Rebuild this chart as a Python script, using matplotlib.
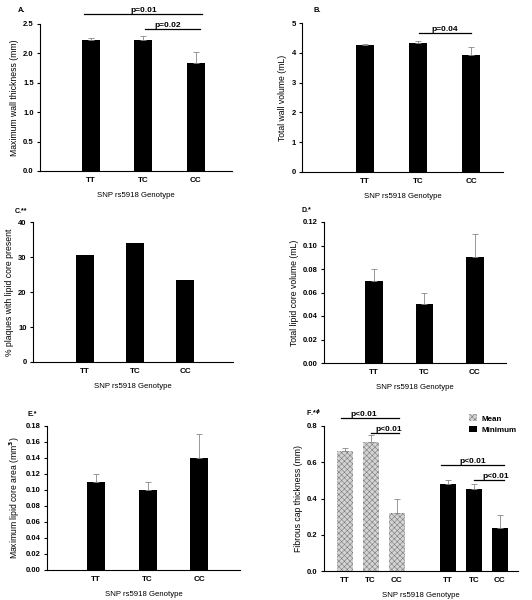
import numpy as np
import matplotlib
matplotlib.use("Agg")
import matplotlib.pyplot as plt

plt.rcParams['font.family'] = ['Liberation Sans', 'DejaVu Sans']
plt.rcParams['font.weight'] = 'bold'
plt.rcParams['hatch.linewidth'] = 0.4

genotypes = ["TT", "TC", "CC"]
xlabel = "SNP rs5918 Genotype"

# A. maximum wall thickness
wall_thick = [2.22, 2.22, 1.84]
wall_thick_err = [0.05, 0.07, 0.18]
# B. total wall volume
wall_vol = [4.25, 4.32, 3.92]
wall_vol_err = [0.05, 0.08, 0.26]
# C. % plaques with lipid core
lipid_pct = [30.5, 34.0, 23.3]
# D. total lipid core volume
lipid_vol = [0.07, 0.05, 0.09]
lipid_vol_err = [0.01, 0.01, 0.02]
# E. maximum lipid core area
lipid_area = [0.11, 0.10, 0.14]
lipid_area_err = [0.01, 0.01, 0.03]
# F. fibrous cap thickness
cap_mean = [0.66, 0.71, 0.32]
cap_mean_err = [0.02, 0.04, 0.08]
cap_min = [0.48, 0.45, 0.24]
cap_min_err = [0.02, 0.03, 0.07]

W, H = 532, 600
fig = plt.figure(figsize=(W / 100, H / 100), dpi=100)


def make_ax(left, right, top, bottom):
    return fig.add_axes([left / W, 1 - bottom / H, (right - left) / W, (bottom - top) / H])


def style(ax, ylim, yticks, fmt, ylab, xlim):
    ax.set_xlim(*xlim)
    ax.set_ylim(*ylim)
    ax.set_yticks(yticks)
    ax.set_yticklabels([fmt.format(v) for v in yticks])
    for s in ["top", "right"]:
        ax.spines[s].set_visible(False)
    for s in ["left", "bottom"]:
        ax.spines[s].set_linewidth(0.8)
    ax.tick_params(axis="y", length=2.5, width=0.8, labelsize=5.5, pad=2)
    ax.tick_params(axis="x", length=0, labelsize=5.8, pad=4)
    ax.set_ylabel(ylab, fontsize=6.2, labelpad=3)
    ax.set_xlabel(xlabel, fontsize=5.6, labelpad=6)


def bars(ax, x, vals, err, width, **kw):
    ax.bar(x, vals, width, color="black", zorder=2, **kw)
    if err is not None:
        ax.errorbar(x, vals, yerr=[np.zeros(len(vals)), err], fmt="none",
                    ecolor="#888888", elinewidth=0.6, capsize=2.0, capthick=0.6, zorder=3)


def pline(ax, x0, x1, y, label, xt, size=6):
    ax.plot([x0, x1], [y, y], color="black", lw=0.9, clip_on=False)
    ax.text(xt, y, label, ha="center", va="bottom", fontsize=size)


x = np.arange(3)

# A
ax = make_ax(40, 232, 24, 171)
bars(ax, x, wall_thick, wall_thick_err, 0.34)
style(ax, (0, 2.5), np.arange(0, 2.51, 0.5), "{:.1f}", "Maximum wall thickness (mm)", (-0.97, 2.69))
ax.set_xticks(x, genotypes)
pline(ax, -0.13, 2.11, 2.67, "p=0.01", 1.0)
pline(ax, 1.03, 2.08, 2.415, "p=0.02", 1.47)
fig.text(18 / W, 1 - 11 / H, "A.", fontsize=5.5, va="center")

# B
ax = make_ax(302, 503, 23, 172)
bars(ax, x, wall_vol, wall_vol_err, 0.34)
style(ax, (0, 5), np.arange(0, 6, 1), "{:.0f}", "Total wall volume (mL)", (-1.19, 2.60))
ax.set_xticks(x, genotypes)
pline(ax, 1.02, 2.0, 4.66, "p=0.04", 1.51)
fig.text(313 / W, 1 - 11 / H, "B.", fontsize=5.5, va="center")

# C
ax = make_ax(33, 233, 222, 362)
bars(ax, x, lipid_pct, None, 0.35)
style(ax, (0, 40), np.arange(0, 41, 10), "{:.0f}", "% plaques with lipid core present", (-1.04, 2.96))
ax.set_xticks(x, genotypes)
fig.text(15 / W, 1 - 212 / H, "C.**", fontsize=5, va="center")

# D
ax = make_ax(324, 506, 222, 363)
bars(ax, x, lipid_vol, lipid_vol_err, 0.35)
style(ax, (0, 0.12), np.arange(0, 0.121, 0.02), "{:.2f}", "Total lipid core volume (mL)", (-0.99, 2.62))
ax.set_xticks(x, genotypes)
fig.text(302 / W, 1 - 210 / H, "D.*", fontsize=5, va="center")

# E
ax = make_ax(47, 240, 426, 570)
bars(ax, x, lipid_area, lipid_area_err, 0.35)
style(ax, (0, 0.18), np.arange(0, 0.181, 0.02), "{:.2f}", "Maximum lipid core area (mm$^\\mathbf{3}$)", (-0.95, 2.79))
ax.set_xticks(x, genotypes)
fig.text(28 / W, 1 - 414 / H, "E.*", fontsize=5, va="center")

# F
ax = make_ax(324, 518, 426, 571)
xm = np.array([0, 1, 2])
xn = np.array([4, 5, 6])
ax.bar(xm, cap_mean, 0.62, color="#d4d4d4", edgecolor="#7a7a7a", hatch="xxxxxx",
       linewidth=0, zorder=2, label="Mean")
ax.errorbar(xm, cap_mean, yerr=[np.zeros(3), cap_mean_err], fmt="none",
            ecolor="#888888", elinewidth=0.6, capsize=2.0, capthick=0.6, zorder=3)
bars(ax, xn, cap_min, cap_min_err, 0.62, label="Minimum")
style(ax, (0, 0.8), np.arange(0, 0.81, 0.2), "{:.1f}", "Fibrous cap thickness (mm)", (-0.81, 6.70))
ax.set_xticks(np.concatenate([xm, xn]), genotypes * 2)
pline(ax, -0.15, 2.09, 0.844, "p<0.01", 0.74)
pline(ax, 1.0, 2.09, 0.761, "p<0.01", 1.7)
pline(ax, 3.72, 6.16, 0.585, "p<0.01", 4.95)
pline(ax, 5.0, 6.16, 0.502, "p<0.01", 5.85)
ax.legend(loc="upper left", bbox_to_anchor=(0.71, 1.13), frameon=False, fontsize=5.8,
          handlelength=1.0, handleheight=0.9, handletextpad=0.6, labelspacing=0.4)
fig.text(306 / W, 1 - 413 / H, "F.*$^{\\phi}$", fontsize=5, va="center")

fig.savefig("out.png", dpi=100, facecolor="white")
